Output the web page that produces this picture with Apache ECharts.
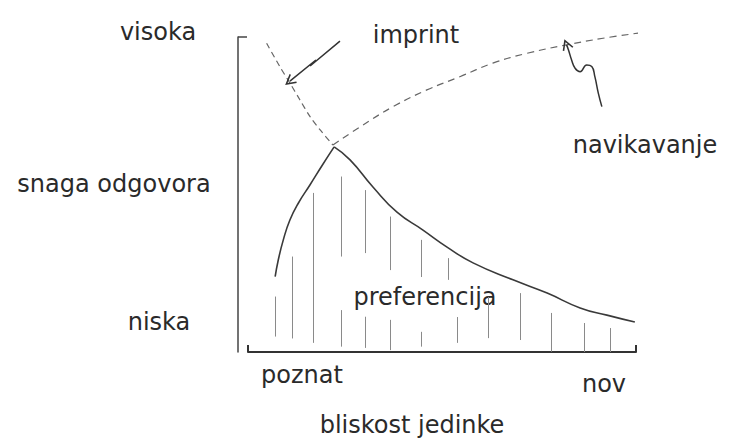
<!DOCTYPE html>
<html lang="hr">
<head>
<meta charset="UTF-8">
<title>Imprint i preferencija</title>
<script src="https://cdn.jsdelivr.net/npm/echarts@6/dist/echarts.min.js"></script>
<style>
  html, body { margin: 0; background: #fff; }
  #chart { width: 736px; height: 443px; }
</style>
</head>
<body>
<div id="chart"></div>
<script>
// krivulja preferencije: uzlazni i silazni dio (vrh je oštar)
const prefRise = [[7.0, 23.9], [7.8, 29.2], [9.1, 35.6], [10.8, 41.9], [13.0, 47.3], [16.0, 53.1], [19.1, 59.2], [22.2, 65.1]];
const prefFall = [[22.2, 65.1], [26.3, 61.0], [32.2, 52.4], [38.4, 44.4], [45.1, 38.7], [51.3, 33.3],
                  [58.0, 28.3], [68.3, 22.9], [77.1, 18.7], [85.6, 14.0], [92.5, 11.7], [99.7, 9.5]];
// isprekidane krivulje
const imprintCurve = [[4.8, 98.0], [8.2, 90.6], [10.8, 85.4], [13.4, 80.0], [16.0, 74.7], [18.6, 70.5], [21.9, 65.7]];
const habitCurve = [[21.9, 65.7], [28.9, 71.5], [37.4, 77.9], [46.1, 83.2], [54.6, 87.4], [63.1, 91.7],
                    [71.8, 94.8], [82.1, 97.5], [91.5, 99.6], [101, 101.3]];
// šrafura ispod krivulje: [x, od, do]
const hatch = [[7.0, 4.9, 17.6], [11.4, 4.3, 30.3], [16.7, 2.9, 50.5], [24.0, 30.3, 55.7], [24.0, 1.7, 13.3],
               [30.2, 31.4, 51.4], [30.2, 1.3, 11.2], [36.6, 26.0, 43.0], [36.6, 0.6, 10.2],
               [44.6, 23.8, 35.6], [44.6, 1.7, 6.4], [51.5, 22.9, 29.8], [53.9, 2.9, 11.1],
               [61.9, 4.4, 17.5], [70.1, 3.8, 18.7], [78.1, 0.1, 12.4], [86.6, 0, 9.2], [93.3, 0, 7.6]];
// strelice (zadnja točka je vrh strelice)
const imprintArrow = [[23.7, 98.7], [16.0, 90.8], [17.5, 92.7], [10.8, 86.0]];
const habitArrow = [[91.2, 77.9], [90.3, 82.1], [89.4, 87.4], [88.6, 90.6], [87.3, 91.1], [85.6, 89.0],
                    [84.3, 90.1], [83.4, 92.7], [82.6, 95.9], [82.1, 97.5]];

const yTexts = ['visoka', 'snaga odgovora', 'niska'];
const xTexts = ['poznat', 'nov', 'bliskost jedinke'];
const notes = ['imprint', 'navikavanje', 'preferencija'];

const ink = '#2a2a2a';
const font = '24px "DejaVu Sans"';
const vShape = 'path://M0,10 L5,0 L10,10';

function label(text, x, y) {
  return {
    type: 'text', x: x, y: y,
    style: { text: text, font: font, fill: ink, align: 'center', verticalAlign: 'middle',
             textAlign: 'center', textVerticalAlign: 'middle' }
  };
}

function arrowSeries(points, rotate, smooth) {
  const data = points.map((p, i) => i < points.length - 1 ? p : {
    value: p, symbol: vShape, symbolSize: [10, 9], symbolRotate: rotate,
    itemStyle: { color: 'rgba(0,0,0,0)', borderColor: '#333', borderWidth: 1.5 }
  });
  return { type: 'line', data: data, smooth: smooth, clip: false, showSymbol: true, symbol: 'none',
           lineStyle: { color: '#333', width: 1.5 } };
}

const chart = echarts.init(document.getElementById('chart'), null, { renderer: 'svg' });

function buildOption(rotA, rotB) {
  return {
    animation: false,
    grid: { left: 248, right: 100, top: 37, bottom: 91 },
    xAxis: {
      type: 'value', min: 0, max: 100,
      axisLine: { onZero: false, lineStyle: { color: '#333', width: 2 } },
      axisTick: { show: true, inside: true, length: 7, customValues: [0, 100], lineStyle: { color: '#333', width: 2 } },
      axisLabel: { show: false },
      splitLine: { show: false }
    },
    yAxis: {
      type: 'value', min: 0, max: 100, offset: 10,
      axisLine: { show: true, onZero: false, lineStyle: { color: '#444', width: 1.5 } },
      axisTick: { show: true, inside: true, length: 9, customValues: [100], lineStyle: { color: '#444', width: 1.5 } },
      axisLabel: { show: false },
      splitLine: { show: false }
    },
    series: [
      {
        type: 'lines', coordinateSystem: 'cartesian2d',
        data: hatch.map(h => ({ coords: [[h[0], h[1]], [h[0], h[2]]] })),
        lineStyle: { color: '#8a8a8a', width: 1, opacity: 1 }
      },
      { type: 'line', data: prefRise, smooth: 0.5, showSymbol: false, clip: false,
        lineStyle: { color: '#3a3a3a', width: 1.6 } },
      { type: 'line', data: prefFall, smooth: 0.5, showSymbol: false, clip: false,
        lineStyle: { color: '#3a3a3a', width: 1.6 } },
      { type: 'line', data: imprintCurve, smooth: 0.3, showSymbol: false, clip: false,
        lineStyle: { color: '#666', width: 1.2, type: [6, 4] } },
      { type: 'line', data: habitCurve, smooth: 0.4, showSymbol: false, clip: false,
        lineStyle: { color: '#666', width: 1.2, type: [7, 5] } },
      arrowSeries(imprintArrow, rotA, 0),
      arrowSeries(habitArrow, rotB, 0.5)
    ],
    graphic: [
      label(yTexts[0], 158, 32),
      label(yTexts[1], 114, 184),
      label(yTexts[2], 159, 322),
      label(notes[0], 416, 35),
      label(notes[1], 645, 145),
      label(notes[2], 425, 297),
      label(xTexts[0], 302, 375),
      label(xTexts[1], 604, 384),
      label(xTexts[2], 412, 425)
    ]
  };
}

// kut vrha strelice iz zadnjeg segmenta, u pikselima
function tipAngle(points) {
  const a = chart.convertToPixel({ gridIndex: 0 }, points[points.length - 2]);
  const b = chart.convertToPixel({ gridIndex: 0 }, points[points.length - 1]);
  const dx = b[0] - a[0], dy = b[1] - a[1];
  return Math.atan2(-dx, -dy) * 180 / Math.PI;
}

chart.setOption(buildOption(0, 0));
chart.setOption(buildOption(tipAngle(imprintArrow), tipAngle(habitArrow)));
</script>
</body>
</html>
